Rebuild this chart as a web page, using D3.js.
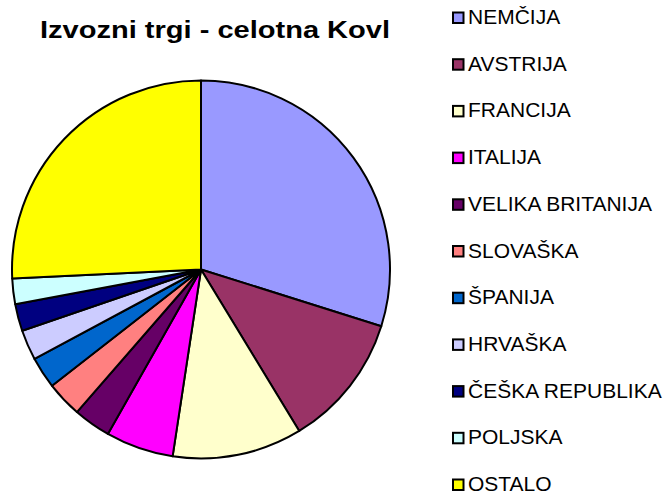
<!DOCTYPE html>
<html>
<head>
<meta charset="utf-8">
<script src="https://cdn.jsdelivr.net/npm/d3@7"></script>
<style>
  body { margin: 0; background: #fff; }
  svg { display: block; font-family: "Liberation Sans", Arial, sans-serif; }
</style>
</head>
<body>
<div id="chart"></div>
<script>
const countries = ['NEMČIJA', 'AVSTRIJA', 'FRANCIJA', 'ITALIJA', 'VELIKA BRITANIJA', 'SLOVAŠKA',
    'ŠPANIJA', 'HRVAŠKA', 'ČEŠKA REPUBLIKA', 'POLJSKA', 'OSTALO'];
const shares = [29.85, 11.45, 11.1, 5.8, 3.2, 3.05, 2.7, 2.6, 2.3, 2.2, 25.75];
const colors = ['#9999FF', '#993366', '#FFFFCC', '#FF00FF', '#660066', '#FF8080',
    '#0066CC', '#CCCCFF', '#000080', '#CCFFFF', '#FFFF00'];

const config = {
    width: 668,
    height: 492,
    cx: 201,
    cy: 269.5,
    radius: 189,
    legendX: 452,
    legendY: 24,
    legendStep: 46.7
};

const data = countries.map((c, i) => ({ country: c, value: shares[i] }));

const colorScale = d3.scaleOrdinal()
    .domain(countries)
    .range(colors);

const svg = d3.select('#chart')
    .append('svg')
    .attr('width', config.width)
    .attr('height', config.height);

svg.append('text')
    .attr('x', 40)
    .attr('y', 38)
    .attr('font-size', '24px')
    .attr('font-weight', 'bold')
    .attr('textLength', 350)
    .attr('lengthAdjust', 'spacingAndGlyphs')
    .attr('fill', '#000')
    .text('Izvozni trgi - celotna Kovl');

const pie = d3.pie()
    .sort(null)
    .value(d => d.value);

const arc = d3.arc()
    .innerRadius(0)
    .outerRadius(config.radius);

svg.append('g')
    .attr('transform', `translate(${config.cx},${config.cy})`)
    .selectAll('path')
    .data(pie(data))
    .join('path')
    .attr('d', arc)
    .attr('fill', d => colorScale(d.data.country))
    .attr('stroke', '#000')
    .attr('stroke-width', 2)
    .attr('stroke-linejoin', 'round');

const legend = svg.append('g')
    .selectAll('g')
    .data(data)
    .join('g')
    .attr('transform', (d, i) => `translate(${config.legendX},${config.legendY + i * config.legendStep})`);

legend.append('rect')
    .attr('x', 1)
    .attr('y', -11.5)
    .attr('width', 10.5)
    .attr('height', 10.5)
    .attr('fill', d => colorScale(d.country))
    .attr('stroke', '#000')
    .attr('stroke-width', 2);

// text is a bit wider than plain Arial in the reference
legend.append('g')
    .attr('transform', 'translate(16,0) scale(1.05,1)')
    .append('text')
    .attr('x', 0)
    .attr('y', 0)
    .attr('font-size', '20px')
    .attr('fill', '#000')
    .text(d => d.country);
</script>
</body>
</html>
